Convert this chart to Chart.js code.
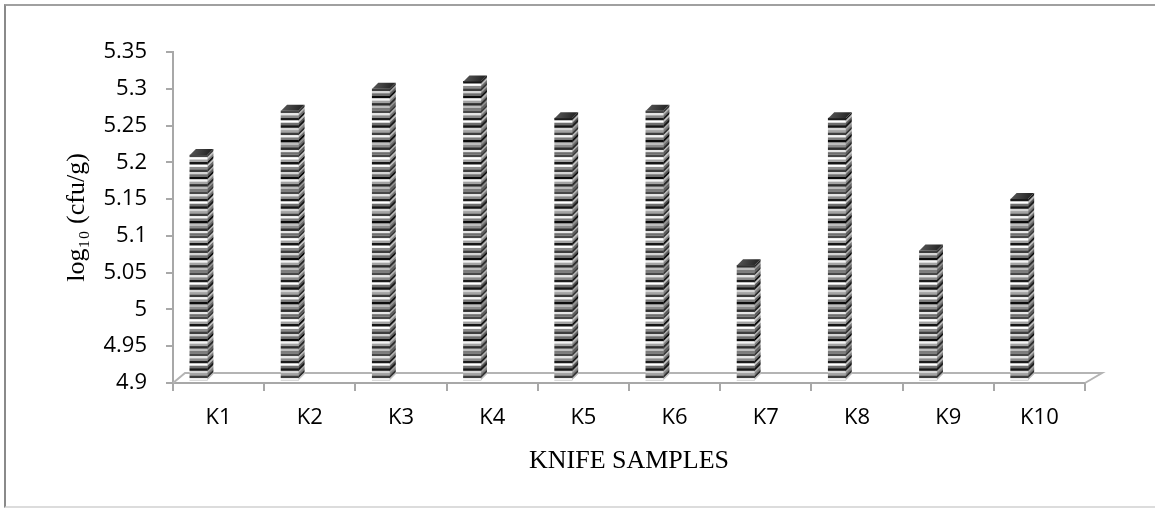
<!DOCTYPE html>
<html>
<head>
<meta charset="utf-8">
<script src="https://cdn.jsdelivr.net/npm/chart.js@4.4.1/dist/chart.umd.min.js"></script>
<style>
  html, body { margin: 0; padding: 0; background: #fff; }
  #wrap { position: relative; width: 1155px; height: 508px; overflow: hidden; }
  #wrap canvas { position: absolute; left: 0; top: 0; }
  #frame {
    position: absolute; left: 4px; top: 4px; width: 1170px; height: 500px;
    border-left: 2px solid #8a8a8a; border-top: 2px solid #a0a0a0; border-bottom: 2px solid #dcdcdc;
    pointer-events: none;
  }
</style>
</head>
<body>
<div id="wrap">
  <canvas id="chart" width="1155" height="508"></canvas>
  <div id="frame"></div>
</div>
<script>
// Knife samples and their bacterial load (log10 cfu/g)
const samples = ['K1', 'K2', 'K3', 'K4', 'K5', 'K6', 'K7', 'K8', 'K9', 'K10'];
const logCounts = [5.21, 5.27, 5.30, 5.31, 5.26, 5.27, 5.06, 5.26, 5.08, 5.15];
const yRange = [4.9, 5.35];
const yStep = 0.05;
const yTitle = 'log\u2081\u2080 (cfu/g)';
const xTitle = 'KNIFE SAMPLES';

const canvas = document.getElementById('chart');
const ctx2d = canvas.getContext('2d');

// Horizontal banded fill used on the columns
function makeStripes() {
  const c = document.createElement('canvas');
  const n = 11, h = 81, p = h / n;
  c.width = 4; c.height = h;
  const g = c.getContext('2d');
  const darks = ['#151515', '#3d3d3d', '#0b0b0b', '#2e2e2e', '#474747', '#1c1c1c'];
  const lights = ['#ffffff', '#d4d4d4', '#f3f3f3', '#bdbdbd', '#e6e6e6'];
  const mids = ['#8c8c8c', '#6f6f6f', '#a3a3a3', '#7d7d7d'];
  for (let i = 0; i < n; i++) {
    const y0 = i * p;
    g.fillStyle = darks[i % darks.length]; g.fillRect(0, y0, 4, 2.7);
    g.fillStyle = lights[i % lights.length]; g.fillRect(0, y0 + 2.7, 4, 2.2);
    g.fillStyle = mids[i % mids.length]; g.fillRect(0, y0 + 4.9, 4, p - 4.9);
  }
  return ctx2d.createPattern(c, 'repeat');
}
const stripes = makeStripes();

// Perspective settings for the pseudo-3D look
const DEPTH_X = 6, DEPTH_Y = 6, BAR_SHIFT = -20;
const FLOOR = { leftDx: 12, rightDx: 17, dy: 10 };

const pseudo3d = {
  id: 'pseudo3d',
  beforeDatasetsDraw(chart) {
    const { ctx, chartArea: a } = chart;
    ctx.save();
    ctx.strokeStyle = '#b4b4b4';
    ctx.lineWidth = 2;
    ctx.beginPath();
    ctx.moveTo(a.left, a.bottom);
    ctx.lineTo(a.left + FLOOR.leftDx, a.bottom - FLOOR.dy);
    ctx.lineTo(a.right + FLOOR.rightDx, a.bottom - FLOOR.dy);
    ctx.lineTo(a.right, a.bottom);
    ctx.stroke();
    ctx.restore();
    ctx.save();
    ctx.translate(BAR_SHIFT, 0);
  },
  afterDatasetsDraw(chart) {
    const ctx = chart.ctx;
    const meta = chart.getDatasetMeta(0);
    const k = DEPTH_Y / DEPTH_X;
    meta.data.forEach(bar => {
      const { x, y, base, width } = bar.getProps(['x', 'y', 'base', 'width'], true);
      const x0 = x - width / 2, x1 = x + width / 2;
      // side face
      ctx.save();
      ctx.transform(1, -k, 0, 1, 0, k * x1);
      ctx.fillStyle = stripes;
      ctx.fillRect(x1, y, DEPTH_X, base - y);
      ctx.fillStyle = 'rgba(0,0,0,0.22)';
      ctx.fillRect(x1, y, DEPTH_X, base - y);
      ctx.restore();
      // top face
      const grad = ctx.createLinearGradient(x0, y - DEPTH_Y, x1, y);
      grad.addColorStop(0, '#5a5a5a');
      grad.addColorStop(1, '#2a2a2a');
      ctx.fillStyle = grad;
      ctx.beginPath();
      ctx.moveTo(x0, y);
      ctx.lineTo(x0 + DEPTH_X, y - DEPTH_Y);
      ctx.lineTo(x1 + DEPTH_X, y - DEPTH_Y);
      ctx.lineTo(x1, y);
      ctx.closePath();
      ctx.fill();
    });
    ctx.restore();
  }
};

const tickFont = { family: '"Open Sans", sans-serif', size: 22 };
const serifFont = '"Liberation Serif", "Times New Roman", serif';
const axisGray = '#a8a8a8';

new Chart(canvas, {
  type: 'bar',
  data: {
    labels: samples,
    datasets: [{
      data: logCounts,
      base: 4.904,
      backgroundColor: stripes,
      borderWidth: 0,
      barThickness: 17.5
    }]
  },
  options: {
    responsive: false,
    animation: false,
    devicePixelRatio: 1,
    layout: { padding: { left: 0, top: 52, right: 70, bottom: 0 } },
    plugins: { legend: { display: false }, tooltip: { enabled: false } },
    scales: {
      x: {
        afterFit(s) { s.height = 125; },
        grid: { drawOnChartArea: false, drawTicks: true, tickLength: 8, color: axisGray, lineWidth: 2 },
        border: { display: true, color: axisGray, width: 2 },
        ticks: { color: '#000', font: tickFont, padding: 14, maxRotation: 0 },
        title: {
          display: true, text: xTitle, color: '#000',
          font: { family: serifFont, size: 26 },
          padding: { top: 0, bottom: 31 }
        }
      },
      y: {
        min: yRange[0],
        max: yRange[1],
        afterFit(s) { s.width = 173; },
        grid: { drawOnChartArea: false, drawTicks: true, tickLength: 7, color: axisGray, lineWidth: 2 },
        border: { display: true, color: axisGray, width: 2 },
        ticks: {
          stepSize: yStep, color: '#000', font: tickFont, padding: 19,
          callback: v => String(+Number(v).toFixed(2))
        },
        title: {
          display: true, text: yTitle, color: '#000',
          font: { family: serifFont, size: 26 },
          padding: { top: 62, bottom: 0 }
        }
      }
    }
  },
  plugins: [pseudo3d]
});
</script>
</body>
</html>
